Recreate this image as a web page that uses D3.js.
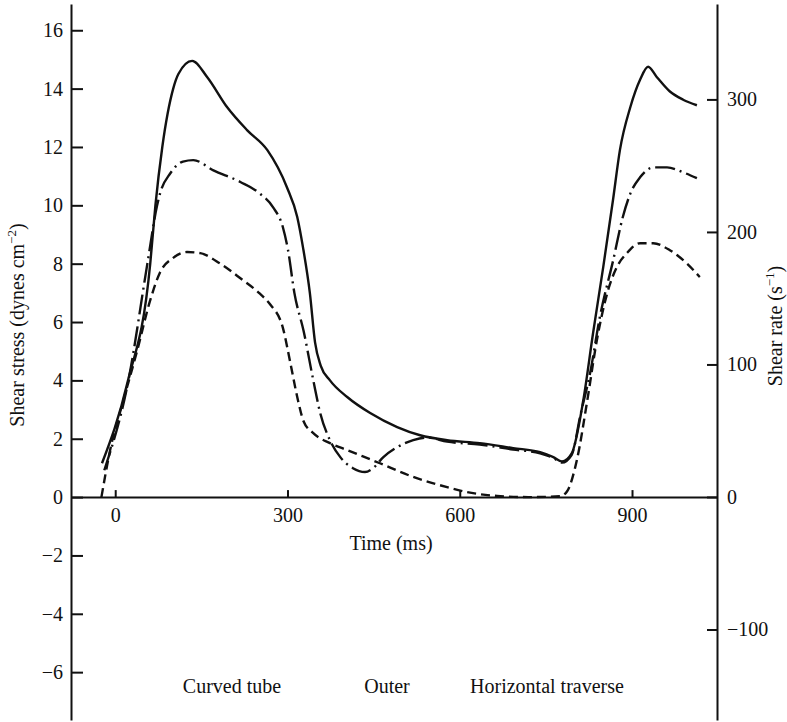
<!DOCTYPE html>
<html lang="en">
<head>
<meta charset="utf-8">
<title>Shear stress and shear rate</title>
<script src="https://d3js.org/d3.v7.min.js"></script>
<style>
  body { margin: 0; background: #fff; }
  svg text { font-family: "Liberation Serif", "Times New Roman", serif; fill: #111; }
  .axis path, .axis line { stroke: #111; stroke-width: 2px; }
  .axis text { font-size: 20px; }
  .curve { fill: none; stroke: #111; stroke-width: 2.4px; }
</style>
</head>
<body>
<script>
// tick values
const timeTicks = [0, 300, 600, 900];
const stressTicks = [-6, -4, -2, 0, 2, 4, 6, 8, 10, 12, 14, 16];
const rateTicks = [-100, 0, 100, 200, 300];

// curves: [time ms, shear stress dynes cm^-2]
const solidCurve = [
  [-23, 1.16], [21, 3.9], [61, 8.0], [70, 10.0], [82, 12.0], [101, 14.0], [110, 14.5],
  [134, 14.95], [160, 14.4], [195, 13.36], [230, 12.57], [265, 11.89], [299, 10.62],
  [317, 9.6], [327, 8.56], [339, 6.99], [348, 5.3], [358, 4.5], [374, 4.0], [404, 3.43],
  [444, 2.88], [491, 2.4], [531, 2.12], [578, 1.95], [635, 1.85], [693, 1.68],
  [740, 1.54], [763, 1.37], [778, 1.22], [795, 1.5], [815, 3.3], [832, 5.6], [850, 7.9],
  [867, 10.2], [879, 11.9], [897, 13.36], [914, 14.3], [928, 14.75], [943, 14.4],
  [966, 13.9], [989, 13.62], [1013, 13.43]
];
const dashDotCurve = [
  [-19, 0.92], [23, 4.0], [56, 8.0], [73, 10.0], [78, 10.4], [96, 11.1], [118, 11.5],
  [136, 11.55], [171, 11.2], [218, 10.8], [252, 10.4], [275, 9.93], [292, 9.25],
  [301, 8.46], [312, 7.0], [328, 5.7], [345, 4.0], [357, 2.88], [374, 1.95],
  [392, 1.37], [414, 0.99], [435, 0.86], [449, 0.99], [467, 1.37], [491, 1.71],
  [519, 1.95], [543, 2.04], [578, 1.9], [635, 1.8], [693, 1.63], [740, 1.5],
  [763, 1.34], [778, 1.18], [795, 1.45], [810, 2.8], [827, 4.25], [844, 6.17],
  [867, 8.1], [884, 9.6], [897, 10.4], [914, 10.96], [937, 11.3], [961, 11.3],
  [989, 11.13], [1013, 10.93]
];
const dashedCurve = [
  [-24, 0.0], [-9, 1.6], [14, 3.3], [38, 5.0], [61, 6.75], [78, 7.7], [101, 8.2],
  [125, 8.4], [148, 8.36], [183, 8.0], [218, 7.5], [252, 6.97], [270, 6.6], [292, 5.8],
  [305, 4.6], [317, 3.43], [328, 2.6], [345, 2.19], [374, 1.85], [404, 1.61],
  [461, 1.16], [519, 0.69], [578, 0.34], [613, 0.17], [665, 0.04], [722, 0.0],
  [775, 0.03], [787, 0.2], [804, 1.27], [822, 3.3], [839, 5.4], [857, 7.0],
  [874, 7.9], [891, 8.36], [914, 8.7], [937, 8.7], [966, 8.46], [996, 8.0], [1018, 7.54]
];

const w = 787, h = 722;
const xLeft = 71, xRight = 717, yTop = 4, yBottom = 720;

const svg = d3.select("body").append("svg")
  .attr("width", w)
  .attr("height", h);

const xScale = d3.scaleLinear().domain([-77, 1048]).range([xLeft, xRight]);
const yScale = d3.scaleLinear().domain([-7.64, 16.9]).range([yBottom, yTop]);
const yRight = d3.scaleLinear().domain([-168.3, 372]).range([yBottom, yTop]);

// left axis, ticks pointing inward
svg.append("g")
  .attr("class", "axis")
  .attr("transform", "translate(" + xLeft + ",0)")
  .call(d3.axisLeft(yScale).tickValues(stressTicks).tickSizeInner(-12).tickSizeOuter(0).tickPadding(8));

// right axis
svg.append("g")
  .attr("class", "axis")
  .attr("transform", "translate(" + xRight + ",0)")
  .call(d3.axisRight(yRight).tickValues(rateTicks).tickSizeInner(-10).tickSizeOuter(0).tickPadding(10));

// time axis on the zero line, small ticks upward
svg.append("g")
  .attr("class", "axis")
  .attr("transform", "translate(0," + yScale(0) + ")")
  .call(d3.axisBottom(xScale).tickValues(timeTicks).tickSizeInner(-7).tickSizeOuter(0).tickPadding(11));

// curves
const line = d3.line()
  .curve(d3.curveMonotoneX)
  .x(d => xScale(d[0]))
  .y(d => yScale(d[1]));

svg.append("path").datum(solidCurve)
  .attr("class", "curve")
  .attr("d", line);

svg.append("path").datum(dashDotCurve)
  .attr("class", "curve")
  .attr("stroke-dasharray", "20,5,2,5")
  .attr("d", line);

svg.append("path").datum(dashedCurve)
  .attr("class", "curve")
  .attr("stroke-dasharray", "9,5")
  .attr("d", line);

// axis titles
svg.append("text")
  .attr("x", 391).attr("y", 550)
  .attr("text-anchor", "middle")
  .style("font-size", "20px")
  .text("Time (ms)");

const ly = svg.append("text")
  .attr("transform", "translate(24,325) rotate(-90)")
  .attr("text-anchor", "middle")
  .style("font-size", "20px");
ly.append("tspan").text("Shear stress (dynes cm");
ly.append("tspan").attr("dy", -8).style("font-size", "13px").text("\u22122");
ly.append("tspan").attr("dy", 8).text(")");

const ry = svg.append("text")
  .attr("transform", "translate(782,326) rotate(-90)")
  .attr("text-anchor", "middle")
  .style("font-size", "20px");
ry.append("tspan").text("Shear rate (s");
ry.append("tspan").attr("dy", -8).style("font-size", "13px").text("\u22121");
ry.append("tspan").attr("dy", 8).text(")");

// panel notes along the bottom
const notes = [["Curved tube", 232], ["Outer", 387], ["Horizontal traverse", 547]];
svg.selectAll("text.note").data(notes).enter().append("text")
  .attr("class", "note")
  .attr("x", d => d[1]).attr("y", 693)
  .attr("text-anchor", "middle")
  .style("font-size", "20px")
  .text(d => d[0]);
</script>
</body>
</html>
